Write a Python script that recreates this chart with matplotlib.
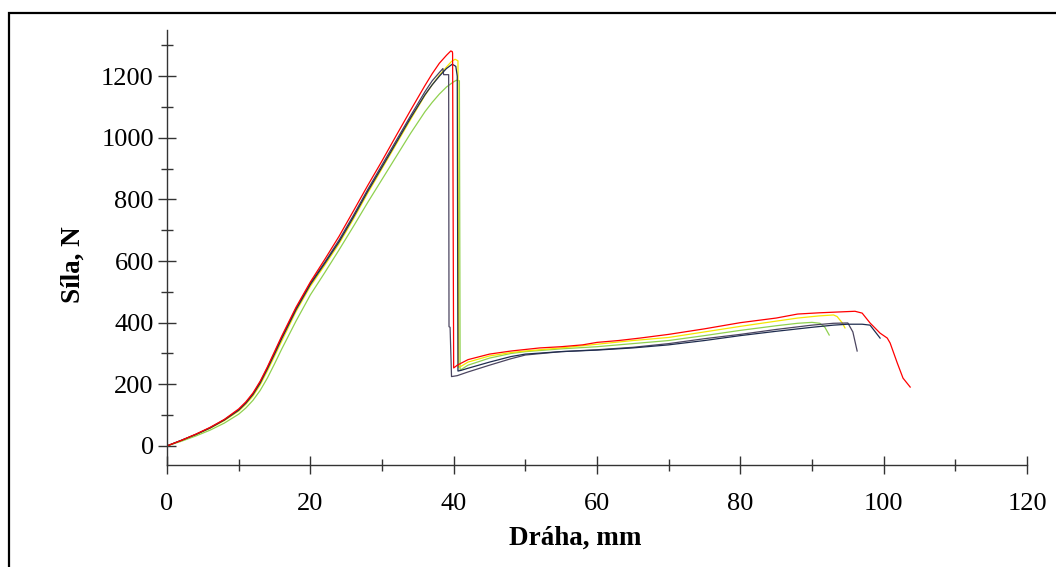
"""
Tahová zkouška - síla vs. dráha (5 vzorků).
"""

import matplotlib
matplotlib.use("Agg")
import matplotlib.pyplot as plt
from matplotlib.patches import Rectangle
from matplotlib.ticker import MultipleLocator

# --- data ---
red_x = [0, 2, 4, 6, 8, 10, 11, 12, 13, 14, 15, 16, 18, 20, 22, 24, 26, 28, 30, 32, 34, 36, 37,
         38, 39, 39.6, 39.8, 39.85, 40.0, 40.5, 42, 45, 48, 50, 52, 55, 58, 60, 63, 66, 70, 75,
         80, 85, 88, 91, 94, 96, 97, 98.1, 99.5, 100.5, 100.9, 101.9, 102.7, 103.7]
red_y = [0, 18, 38, 60, 86, 120, 143, 172, 210, 256, 306, 356, 450, 532, 605, 680, 762, 845, 925,
         1008, 1090, 1170, 1208, 1242, 1268, 1282, 1280, 1275, 253, 262, 280, 298, 308, 313, 318,
         322, 328, 336, 342, 350, 362, 380, 400, 415, 428, 432, 435, 437, 431, 399, 366, 350, 334,
         269, 220, 191]

yellow_x = [0, 2, 4, 6, 8, 10, 11, 12, 13, 14, 15, 16, 18, 20, 22, 24, 26, 28, 30, 32, 34, 36,
            37, 38, 39, 39.7, 40.2, 40.6, 40.7, 41.0, 42, 45, 48, 50, 55, 60, 65, 70, 75, 80, 85,
            88, 91, 93, 93.5, 94.2, 94.6]
yellow_y = [0, 17, 36, 57, 82, 113, 135, 162, 198, 243, 291, 340, 436, 518, 586, 656, 736, 820,
            900, 980, 1060, 1138, 1172, 1203, 1230, 1248, 1255, 1250, 255, 258, 272, 292, 303,
            308, 318, 330, 342, 352, 370, 388, 405, 415, 422, 425, 420, 400, 383]

navy_x = [0, 2, 4, 6, 8, 10, 11, 12, 13, 14, 15, 16, 18, 20, 22, 24, 26, 28, 30, 32, 34, 36, 37,
          38, 39, 39.8, 40.3, 40.5, 40.6, 41, 42, 45, 48, 50, 55, 60, 65, 70, 75, 80, 85, 90, 93,
          95, 97, 98.1, 99.5]
navy_y = [0, 18, 37, 58, 84, 116, 139, 167, 204, 250, 298, 348, 442, 524, 592, 662, 742, 826, 905,
          985, 1065, 1140, 1172, 1200, 1225, 1239, 1232, 1200, 243, 245, 252, 272, 290, 298, 306,
          311, 318, 328, 342, 358, 372, 385, 392, 395, 395, 392, 350]

purple_x = [0, 2, 4, 6, 8, 10, 11, 12, 13, 14, 15, 16, 18, 20, 22, 24, 26, 28, 30, 32, 34, 36,
            37, 38, 38.5, 38.6, 39.3, 39.35, 39.5, 39.7, 40.5, 42, 45, 48, 50, 55, 60, 65, 70, 75,
            80, 85, 90, 93, 95, 95.7, 96.3]
purple_y = [0, 18, 37, 59, 85, 117, 140, 169, 207, 253, 302, 352, 446, 528, 596, 668, 748, 832,
            912, 992, 1072, 1150, 1185, 1212, 1225, 1205, 1205, 387, 385, 225, 228, 240, 262, 283,
            295, 306, 312, 320, 332, 348, 362, 378, 392, 398, 399, 370, 308]

green_x = [0, 2, 4, 6, 8, 10, 11, 12, 13, 14, 15, 16, 18, 20, 22, 24, 26, 28, 30, 32, 34, 35, 36,
           37, 38, 39, 40, 40.4, 40.8, 40.9, 41.2, 42, 45, 48, 50, 55, 60, 65, 70, 75, 80, 85, 88,
           90, 91.1, 91.8, 92.4]
green_y = [0, 15, 32, 51, 74, 103, 123, 148, 180, 220, 266, 314, 405, 490, 562, 636, 712, 790,
           865, 940, 1015, 1050, 1085, 1115, 1142, 1165, 1182, 1187, 1185, 246, 250, 262, 285, 300,
           306, 315, 322, 332, 342, 358, 375, 390, 398, 401, 398, 385, 360]

x_ticks = [0, 20, 40, 60, 80, 100, 120]
y_ticks = [0, 200, 400, 600, 800, 1000, 1200]

plt.rcParams["font.family"] = ["Liberation Serif", "DejaVu Serif"]

W, H = 1056, 567
AX_L, AX_R, AX_T, AX_B = 167, 1027, 30, 465
fig = plt.figure(figsize=(W / 100, H / 100), dpi=100)
ax = fig.add_axes([AX_L / W, (H - AX_B) / H, (AX_R - AX_L) / W, (AX_B - AX_T) / H])

series = [
    (green_x, green_y, "#8fd14f"),
    (yellow_x, yellow_y, "#f5e600"),
    (purple_x, purple_y, "#4b4560"),
    (navy_x, navy_y, "#1f2d4f"),
    (red_x, red_y, "#ff0000"),
]
for xs, ys, c in series:
    ax.plot(xs, ys, color=c, lw=0.9)

ax.set_xlim(0, 120)
ax.set_ylim(-62, 1350)
ax.set_xticks(x_ticks)
ax.set_yticks(y_ticks)
ax.xaxis.set_minor_locator(MultipleLocator(10))
ax.yaxis.set_minor_locator(MultipleLocator(100))

for s in ("top", "right"):
    ax.spines[s].set_visible(False)
for s in ("left", "bottom"):
    ax.spines[s].set_color("#333333")
    ax.spines[s].set_linewidth(1.0)

ax.tick_params(which="major", direction="inout", length=13, width=1.0, color="#333333",
               labelsize=19)
ax.tick_params(which="minor", direction="inout", length=8.5, width=1.0, color="#333333")
ax.tick_params(axis="x", which="major", pad=14)
ax.tick_params(axis="y", which="major", pad=3)

ax.set_xlabel("Dráha, mm", fontsize=19.5, fontweight="bold")
ax.set_ylabel("Síla, N", fontsize=19.5, fontweight="bold")
ax.xaxis.set_label_coords((575 - AX_L) / (AX_R - AX_L), -(526 - AX_B) / (AX_B - AX_T))
ax.yaxis.set_label_coords(-(AX_L - 86) / (AX_R - AX_L), (AX_B - 265) / (AX_B - AX_T))

# black frame around the whole picture (cut at right / bottom edge)
fig.add_artist(Rectangle((9 / W, -0.2), 1.3, 1.2 - 13 / H, transform=fig.transFigure,
                         fill=False, edgecolor="black", lw=1.6, clip_on=False))

fig.savefig("out.png", dpi=100)
